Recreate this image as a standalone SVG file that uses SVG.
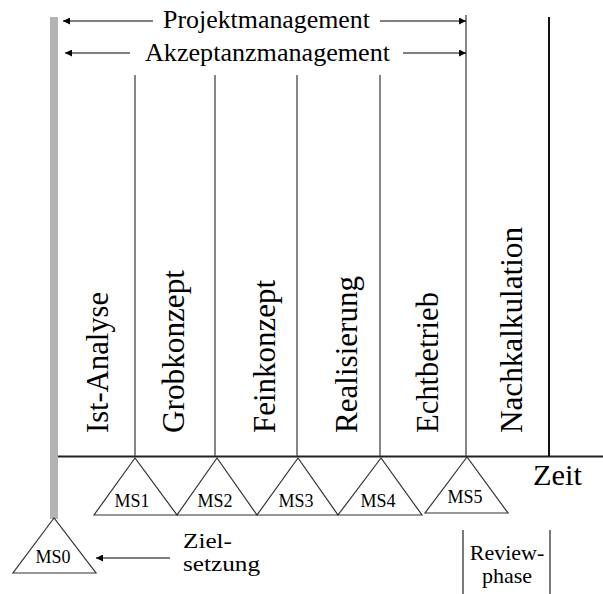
<svg xmlns="http://www.w3.org/2000/svg" width="603" height="594" viewBox="0 0 603 594" font-family="'Liberation Serif', Tinos, 'Nimbus Roman', 'Noto Serif', FreeSerif, Times, serif">
  <defs>
    <marker id="ah" viewBox="0 0 10 10" refX="10" refY="5" markerWidth="9" markerHeight="7" markerUnits="userSpaceOnUse" orient="auto-start-reverse">
      <path d="M0,0 L10,5 L0,10 Z" fill="#000"/>
    </marker>
    <style>
      text { font-family: 'Liberation Serif', Tinos, 'Nimbus Roman', 'Noto Serif', FreeSerif, Times, serif; fill: #000; }
      .phase { font-size: 31px; }
      .head { font-size: 25px; }
      .ms { font-size: 18px; text-anchor: middle; }
      .note { font-size: 22px; }
      .tri { fill: #fff; stroke: #333; stroke-width: 1.2; }
      .div { stroke: #444; stroke-width: 1.3; }
      .arrow { stroke: #000; stroke-width: 1.2; fill: none; }
    </style>
  </defs>
  <rect width="603" height="594" fill="#fff"/>

  <!-- time axis and start bar -->
  <g id="axis">
    <rect x="50" y="17" width="8" height="502" fill="#b3b3b3"/>
    <line x1="58" y1="456.5" x2="603" y2="456.5" stroke="#222" stroke-width="2"/>
    <text x="533" y="485" font-size="30" textLength="49" lengthAdjust="spacingAndGlyphs">Zeit</text>
  </g>

  <!-- phase dividers -->
  <g id="dividers">
    <line class="div" x1="135" y1="75" x2="135" y2="456"/>
    <line class="div" x1="215" y1="75" x2="215" y2="456"/>
    <line class="div" x1="297" y1="75" x2="297" y2="456"/>
    <line class="div" x1="380" y1="75" x2="380" y2="456"/>
    <line class="div" x1="466" y1="15" x2="466" y2="456"/>
    <line x1="549" y1="17" x2="549" y2="456" stroke="#111" stroke-width="2"/>
  </g>

  <!-- management spans -->
  <g id="connectors">
    <line class="arrow" x1="153" y1="21" x2="63" y2="21" marker-end="url(#ah)"/>
    <line class="arrow" x1="380" y1="21" x2="466" y2="21" marker-end="url(#ah)"/>
    <line class="arrow" x1="130" y1="53" x2="65" y2="53" marker-end="url(#ah)"/>
    <line class="arrow" x1="403" y1="53" x2="466" y2="53" marker-end="url(#ah)"/>
    <line class="arrow" x1="170" y1="558" x2="96" y2="558" marker-end="url(#ah)"/>
  </g>

  <g id="projektmanagement">
    <text class="head" x="163" y="28" textLength="207" lengthAdjust="spacingAndGlyphs">Projektmanagement</text>
  </g>
  <g id="akzeptanzmanagement">
    <text class="head" x="145" y="61" textLength="245" lengthAdjust="spacingAndGlyphs">Akzeptanzmanagement</text>
  </g>

  <!-- phase labels -->
  <g id="ist-analyse">
    <text class="phase" transform="translate(108,433) rotate(-90)" textLength="141" lengthAdjust="spacingAndGlyphs">Ist-Analyse</text>
  </g>
  <g id="grobkonzept">
    <text class="phase" transform="translate(184,433) rotate(-90)" textLength="163" lengthAdjust="spacingAndGlyphs">Grobkonzept</text>
  </g>
  <g id="feinkonzept">
    <text class="phase" transform="translate(275,433) rotate(-90)" textLength="153" lengthAdjust="spacingAndGlyphs">Feinkonzept</text>
  </g>
  <g id="realisierung">
    <text class="phase" transform="translate(357,433) rotate(-90)" textLength="157" lengthAdjust="spacingAndGlyphs">Realisierung</text>
  </g>
  <g id="echtbetrieb">
    <text class="phase" transform="translate(438,433) rotate(-90)" textLength="141" lengthAdjust="spacingAndGlyphs">Echtbetrieb</text>
  </g>
  <g id="nachkalkulation">
    <text class="phase" transform="translate(522,433) rotate(-90)" textLength="206" lengthAdjust="spacingAndGlyphs">Nachkalkulation</text>
  </g>

  <!-- milestones -->
  <g id="ms0">
    <polygon class="tri" points="54,518 13,573 96,573"/>
    <text class="ms" x="53" y="563">MS0</text>
  </g>
  <g id="ms1">
    <polygon class="tri" points="135,458 94,515 177,515"/>
    <text class="ms" x="132" y="507">MS1</text>
  </g>
  <g id="ms2">
    <polygon class="tri" points="217,458 177,515 257,515"/>
    <text class="ms" x="215" y="507">MS2</text>
  </g>
  <g id="ms3">
    <polygon class="tri" points="298,458 257,515 338,515"/>
    <text class="ms" x="296" y="507">MS3</text>
  </g>
  <g id="ms4">
    <polygon class="tri" points="381,458 338,515 422,515"/>
    <text class="ms" x="378" y="507">MS4</text>
  </g>
  <g id="ms5">
    <polygon class="tri" points="467,457 425,513 508,513"/>
    <text class="ms" x="465" y="503">MS5</text>
  </g>

  <!-- annotations -->
  <g id="zielsetzung">
    <text class="note" x="183" y="548" textLength="49" lengthAdjust="spacingAndGlyphs">Ziel-</text>
    <text class="note" x="183" y="571" textLength="77" lengthAdjust="spacingAndGlyphs">setzung</text>
  </g>
  <g id="reviewphase">
    <line x1="463" y1="530" x2="463" y2="594" stroke="#222" stroke-width="1.2"/>
    <line x1="550" y1="530" x2="550" y2="594" stroke="#222" stroke-width="1.2"/>
    <text x="507" y="560" text-anchor="middle" font-size="22">Review-</text>
    <text x="507" y="583" text-anchor="middle" font-size="22">phase</text>
  </g>
</svg>
